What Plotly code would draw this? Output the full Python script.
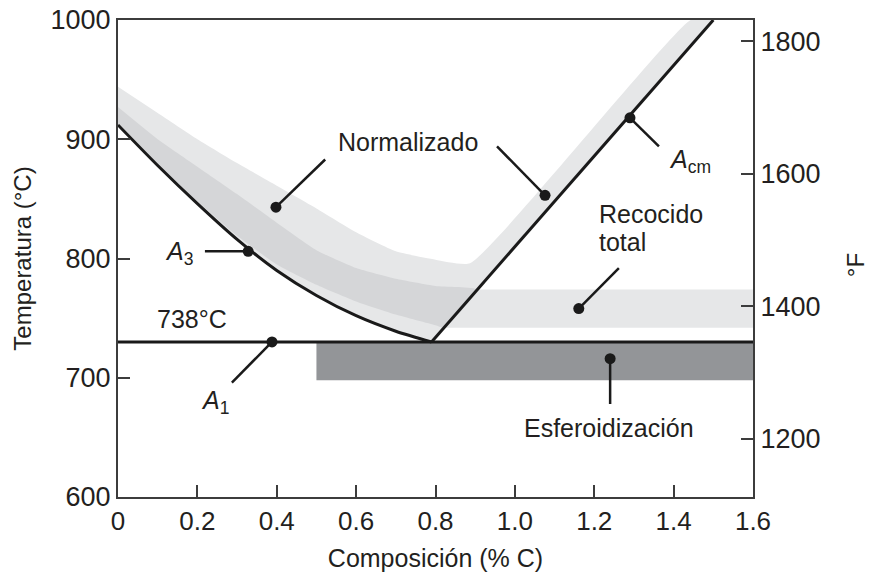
import plotly.graph_objects as go

# ---------------- data ----------------
# A3 line (hypoeutectoid boundary), % C vs °C
a3_x = [0.0, 0.1, 0.2, 0.3, 0.4, 0.5, 0.6, 0.7, 0.79]
a3_t = [912, 878, 846, 816, 790, 769, 752, 739, 730]

# Acm line (hypereutectoid boundary)
acm_x = [0.79, 1.5]
acm_t = [730, 1000]

# A1 eutectoid line
a1_x = [0.0, 1.6]
a1_t = [730, 730]

# Normalizado band upper edge
norm_top_x = [0.0, 0.1, 0.2, 0.3, 0.4, 0.5, 0.6, 0.7, 0.8, 0.887, 1.443]
norm_top_t = [944, 922, 900, 880, 861, 842, 822, 806, 799, 796, 1000]

# Recocido total band (hypoeutectoid part + horizontal part)
rec_x = [0.0, 0.1, 0.2, 0.3, 0.4, 0.5, 0.6, 0.7, 0.8]
rec_lo_t = [912, 878, 848, 819, 795, 778, 764, 753, 744]
rec_hi_t = [927, 900, 877, 854, 830, 807, 792, 783, 777]
rec_h_x = [0.8, 1.6]
rec_h_lo = 742
rec_h_hi = 774
rec_acm_hi_x = 0.905   # where band top meets Acm
rec_acm_lo_x = 0.822   # where band bottom meets Acm

# Esferoidización band
esf_x = [0.5, 1.6]
esf_t = [698, 730]

# callout leader lines: (dot x, dot T, end x, end T)
callouts = [
    (0.398, 843, 0.522, 883),    # Normalizado (left)
    (1.076, 853, 0.955, 894),    # Normalizado (right)
    (1.290, 918, 1.363, 894),    # Acm
    (1.161, 758, 1.262, 792),    # Recocido total
    (1.240, 716, 1.240, 678),    # Esferoidización
    (0.328, 806, 0.219, 806),    # A3
    (0.388, 730, 0.287, 696),    # A1
]

labels = [
    ("Normalizado", 0.731, 898, "center"),
    ("Recocido", 1.207, 837, "left"),
    ("total", 1.207, 814, "left"),
    ("Esferoidización", 1.237, 658, "center"),
    ("738°C", 0.186, 749, "center"),
    ("<i>A</i><sub>3</sub>", 0.154, 805, "center"),
    ("<i>A</i><sub>1</sub>", 0.244, 680, "center"),
    ("<i>A</i><sub>cm</sub>", 1.441, 882, "center"),
]

x_ticks = [0, 0.2, 0.4, 0.6, 0.8, 1.0, 1.2, 1.4, 1.6]
x_ticktext = ["0", "0.2", "0.4", "0.6", "0.8", "1.0", "1.2", "1.4", "1.6"]
c_ticks = [600, 700, 800, 900, 1000]
f_ticks = [1200, 1400, 1600, 1800]

# ---------------- styles ----------------
FONT = "Liberation Sans, Arial, Helvetica, sans-serif"
TXT = "#231f20"
LIGHT = "#e6e7e8"
MID = "#d5d6d8"
DARK = "#939598"
LINE = "#1a1a1a"
AX = "#3c3c3c"
SMOOTH = dict(width=0, shape="spline", smoothing=0.45)

fig = go.Figure()

# Normalizado band (light)
nx = list(norm_top_x) + [acm_x[1]] + list(reversed(acm_x)) + list(reversed(a3_x))
nt = list(norm_top_t) + [acm_t[1]] + list(reversed(acm_t)) + list(reversed(a3_t))
fig.add_trace(go.Scatter(x=nx, y=nt, fill="toself", fillcolor=LIGHT, mode="lines",
                         line=SMOOTH, hoverinfo="skip", showlegend=False))

# Recocido horizontal band (light)
fig.add_trace(go.Scatter(x=[rec_h_x[0], rec_h_x[1], rec_h_x[1], rec_h_x[0]],
                         y=[rec_h_lo, rec_h_lo, rec_h_hi, rec_h_hi],
                         fill="toself", fillcolor=LIGHT, mode="lines",
                         line=dict(width=0), hoverinfo="skip", showlegend=False))

# Overlap (Normalizado + Recocido) darker band
ox = list(rec_x) + [rec_acm_hi_x, rec_acm_lo_x] + list(reversed(rec_x))
ot = list(rec_hi_t) + [rec_h_hi, rec_h_lo] + list(reversed(rec_lo_t))
fig.add_trace(go.Scatter(x=ox, y=ot, fill="toself", fillcolor=MID, mode="lines",
                         line=SMOOTH, hoverinfo="skip", showlegend=False))

# Esferoidización band
fig.add_trace(go.Scatter(x=[esf_x[0], esf_x[1], esf_x[1], esf_x[0]],
                         y=[esf_t[0], esf_t[0], esf_t[1], esf_t[1]],
                         fill="toself", fillcolor=DARK, mode="lines",
                         line=dict(width=0), hoverinfo="skip", showlegend=False))

# Phase lines
fig.add_trace(go.Scatter(x=a3_x, y=a3_t, mode="lines",
                         line=dict(color=LINE, width=3, shape="spline", smoothing=0.8),
                         hoverinfo="skip", showlegend=False))
for xs, ts in [(acm_x, acm_t), (a1_x, a1_t)]:
    fig.add_trace(go.Scatter(x=xs, y=ts, mode="lines", line=dict(color=LINE, width=3),
                             hoverinfo="skip", showlegend=False))

# Callouts
for (dx, dt, ex, et) in callouts:
    fig.add_trace(go.Scatter(x=[dx, ex], y=[dt, et], mode="lines",
                             line=dict(color=LINE, width=2.5),
                             hoverinfo="skip", showlegend=False))
    fig.add_trace(go.Scatter(x=[dx], y=[dt], mode="markers",
                             marker=dict(color=LINE, size=11),
                             hoverinfo="skip", showlegend=False))

# dummy trace for the °F axis
fig.add_trace(go.Scatter(x=[0, 0], y=[c_ticks[0] * 1.8 + 32, c_ticks[-1] * 1.8 + 32],
                         yaxis="y2", mode="lines", line=dict(width=0),
                         hoverinfo="skip", showlegend=False))

for text, x, t, anchor in labels:
    fig.add_annotation(x=x, y=t, text=text, showarrow=False, xanchor=anchor,
                       yanchor="middle", font=dict(family=FONT, size=25, color=TXT))

# °F axis title (placed as rotated paper text)
fig.add_annotation(x=1.1606, y=0.486, xref="paper", yref="paper", text="°F",
                   showarrow=False, textangle=-90, xanchor="center", yanchor="middle",
                   font=dict(family=FONT, size=24, color=TXT))

fig.update_layout(
    width=871, height=579,
    margin=dict(l=118, r=118, t=20, b=82, autoexpand=False),
    paper_bgcolor="white", plot_bgcolor="white",
    font=dict(family=FONT, color=TXT),
    xaxis=dict(range=[0, 1.6], tickvals=x_ticks, ticktext=x_ticktext,
               ticks="inside", ticklen=12, tickwidth=2, tickcolor=AX,
               showline=True, linecolor=AX, linewidth=2, mirror=True,
               showgrid=False, zeroline=False, automargin=False,
               tickfont=dict(size=26, color=TXT),
               title=dict(text="Composición (% C)", font=dict(size=25, color=TXT), standoff=14)),
    yaxis=dict(range=[600, 1000], tickvals=c_ticks,
               ticks="inside", ticklen=12, tickwidth=2, tickcolor=AX,
               showline=True, linecolor=AX, linewidth=2,
               showgrid=False, zeroline=False, automargin=False,
               tickfont=dict(size=27, color=TXT),
               title=dict(text="Temperatura (°C)", font=dict(size=24, color=TXT), standoff=12)),
    yaxis2=dict(range=[c_ticks[0] * 1.8 + 32, c_ticks[-1] * 1.8 + 32], tickvals=f_ticks,
                overlaying="y", side="right",
                ticks="inside", ticklen=12, tickwidth=2, tickcolor=AX,
                showline=True, linecolor=AX, linewidth=2,
                showgrid=False, zeroline=False, automargin=False,
                tickfont=dict(size=27, color=TXT)),
)

fig.write_html("out.html")
